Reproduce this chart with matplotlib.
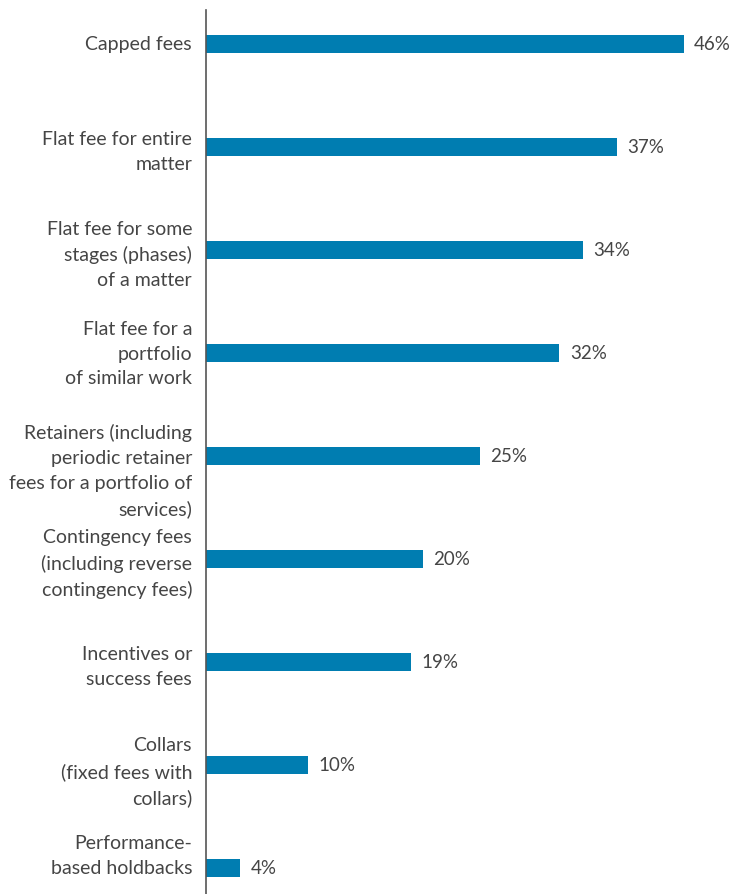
import matplotlib
matplotlib.use("Agg")
import matplotlib.pyplot as plt

categories = [
    "Capped fees",
    "Flat fee for entire\nmatter",
    "Flat fee for some\nstages (phases)\nof a matter",
    "Flat fee for a\nportfolio\nof similar work",
    "Retainers (including\nperiodic retainer\nfees for a portfolio of\nservices)",
    "Contingency fees\n(including reverse\ncontingency fees)",
    "Incentives or\nsuccess fees",
    "Collars\n(fixed fees with\ncollars)",
    "Performance-\nbased holdbacks",
]
# bar lengths as drawn in the picture (percent units)
bar_values = [43.1, 37.1, 34.0, 31.9, 24.7, 19.6, 18.5, 9.2, 3.1]
# printed value labels
value_labels = ["46%", "37%", "34%", "32%", "25%", "20%", "19%", "10%", "4%"]

BAR_COLOR = "#007db1"
TEXT_COLOR = "#454545"
FS = 14

# layout only: vertical nudge of each category label (pixels, + = down)
label_nudge_px = [0, 5, 5, 1, 15, 5, 5, 7, -12]

plt.rcParams["font.family"] = ["Lato", "DejaVu Sans"]

W, H, DPI = 733, 894, 100
fig = plt.figure(figsize=(W / DPI, H / DPI), dpi=DPI)
ax = fig.add_axes([206 / W, 0, (W - 206) / W, (H - 10) / H])

ypos = list(range(len(categories)))
ax.barh(ypos, bar_values, height=0.175, color=BAR_COLOR)
ax.set_xlim(0, 527 / 11.08)
ax.set_ylim(8.25, -0.33)

ax.set_yticks([])
ax.set_xticks([])

ytrans = ax.get_yaxis_transform()
for y, cat, nudge in zip(ypos, categories, label_nudge_px):
    ax.annotate(cat, xy=(0, y), xycoords=ytrans,
                xytext=(-10, -nudge * 0.72), textcoords="offset points",
                ha="right", va="center", multialignment="right",
                fontsize=FS, color=TEXT_COLOR, linespacing=1.56,
                annotation_clip=False)

for y, v, lab in zip(ypos, bar_values, value_labels):
    ax.annotate(lab, xy=(v, y), xytext=(7.5, 0), textcoords="offset points",
                ha="left", va="center", fontsize=13.5, color=TEXT_COLOR,
                annotation_clip=False)

for s in ["top", "right", "bottom"]:
    ax.spines[s].set_visible(False)
ax.spines["left"].set_color("#555555")
ax.spines["left"].set_linewidth(1.2)

fig.savefig("out.png", dpi=DPI)
